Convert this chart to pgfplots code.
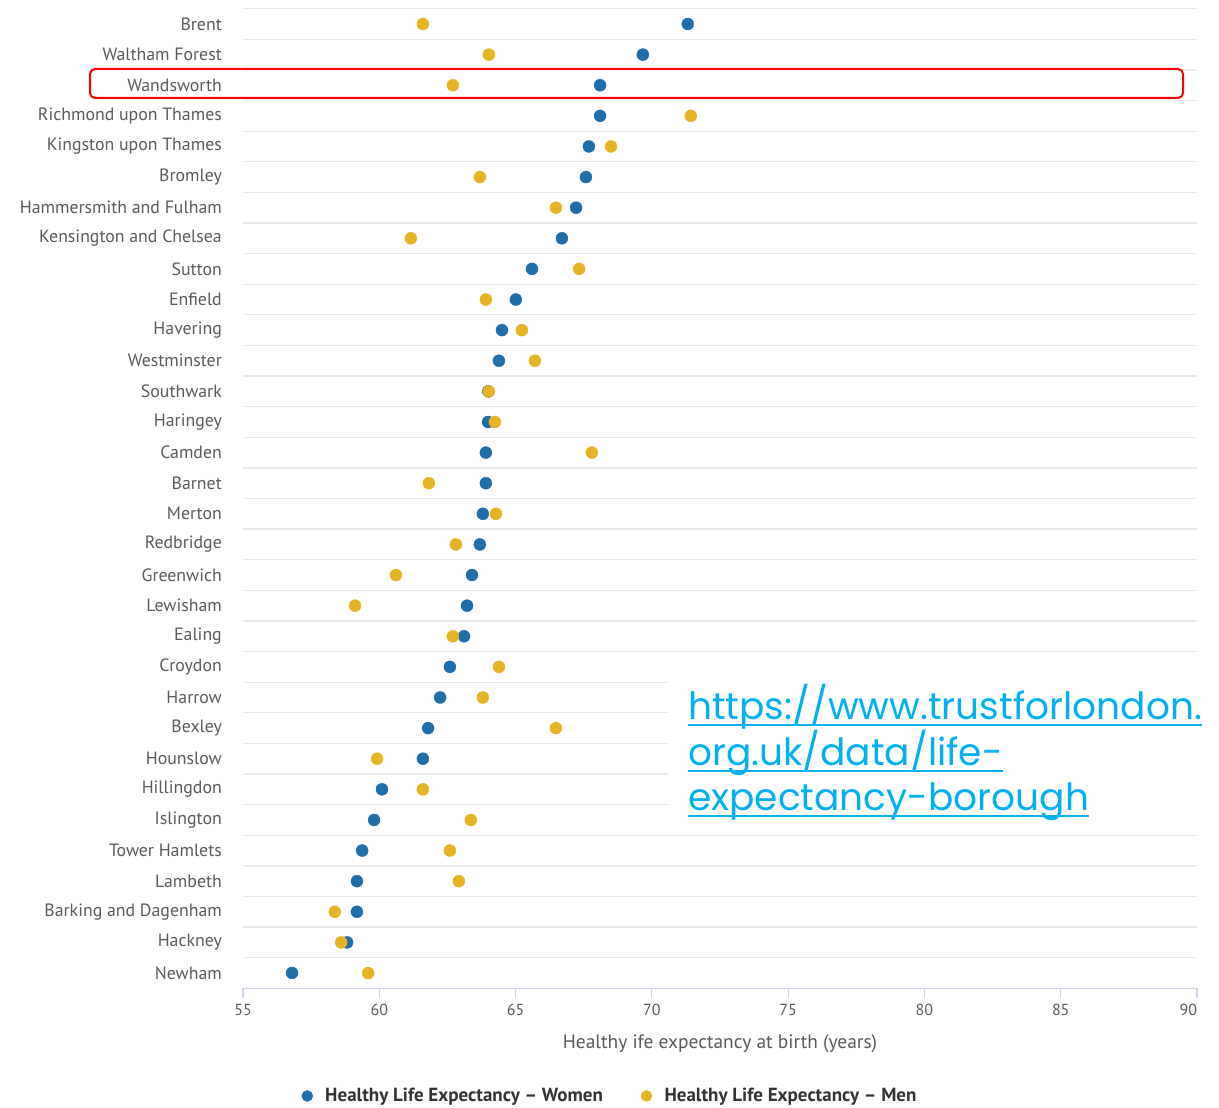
\documentclass[border=0pt]{standalone}
\usepackage{pgfplots}
\pgfplotsset{compat=1.18}
\usepackage{pgfplotstable}
\usepackage{fontspec}
\setmainfont{PT Sans}
\newfontfamily\urlfont{Poppins}
\definecolor{women}{HTML}{1F6EAB}
\definecolor{men}{HTML}{E6B325}
\definecolor{labc}{HTML}{5A5A5A}
\definecolor{gridc}{HTML}{E8E8E8}
\definecolor{axisc}{HTML}{CCD6EB}
\definecolor{urlc}{HTML}{00B0F0}
\definecolor{legc}{HTML}{333333}

\pgfplotstableread{
idx women men
0 71.32 61.60
1 69.67 64.02
2 68.10 62.70
3 68.10 71.43
4 67.69 68.50
5 67.58 63.69
6 67.22 66.48
7 66.70 61.16
8 65.60 67.33
9 65.01 63.91
10 64.50 65.23
11 64.39 65.71
12 64.00 64.02
13 63.99 64.24
14 63.91 67.80
15 63.91 61.82
16 63.80 64.28
17 63.69 62.81
18 63.40 60.61
19 63.22 59.11
20 63.11 62.70
21 62.59 64.39
22 62.23 63.80
23 61.79 66.48
24 61.60 59.92
25 60.10 61.60
26 59.81 63.36
27 59.37 62.59
28 59.18 62.92
29 59.18 58.37
30 58.82 58.60
31 56.80 59.59
}\data

\newcommand\ulx[1]{\setbox0\hbox{#1}\rlap{\rule[-6bp]{\wd0}{1.6bp}}\box0}

\begin{document}
\begin{tikzpicture}
\begin{axis}[
  at={(243bp,119.7bp)}, anchor=south west,
  scale only axis, width=954bp, height=979.6bp,
  xmin=55, xmax=90, ymin=-0.5, ymax=31.5, y dir=reverse,
  axis line style={draw=none},
  major tick length=0pt, minor tick length=0pt,
  xtick={55,60,...,90},
  xticklabels={55,60,65,70,75,80,85,\makebox[0pt][r]{90}},
  xticklabel style={font=\fontsize{16bp}{19bp}\selectfont, text=labc, yshift=-12bp},
  ytick={0,...,31},
  yticklabels={Brent,Waltham Forest,Wandsworth,Richmond upon Thames,Kingston upon Thames,Bromley,Hammersmith and Fulham,Kensington and Chelsea,Sutton,Enfield,Havering,Westminster,Southwark,Haringey,Camden,Barnet,Merton,Redbridge,Greenwich,Lewisham,Ealing,Croydon,Harrow,Bexley,Hounslow,Hillingdon,Islington,Tower Hamlets,Lambeth,Barking and Dagenham,Hackney,Newham},
  yticklabel style={font=\fontsize{17.8bp}{20bp}\selectfont, text=labc, anchor=east, inner sep=0pt, xshift=-21bp},
  minor ytick={-0.5,0.5,...,31.5},
  yminorgrids=true,
  minor grid style={draw=gridc, line width=1.3bp},
  xlabel={Healthy ife expectancy at birth (years)},
  xlabel style={at={(axis description cs:0.5,0)}, anchor=center, yshift=-55bp, font=\fontsize{19.4bp}{22bp}\selectfont, text=labc},
  legend columns=2,
  legend cell align=left,
  legend image code/.code={\fill[#1] (0bp,0bp) circle (5.5bp); \path[draw=none, fill=none] (-5.5bp,-0.1bp) rectangle (16bp,0.1bp);},
  legend style={at={(axis description cs:0.3847,-0.1099)}, anchor=center, draw=none, fill=none,
    font=\bfseries\fontsize{19bp}{22bp}\selectfont, text=legc,
    /tikz/every even column/.append style={column sep=36bp}},
  clip=false,
]
\addplot[only marks, mark=*, mark size=6bp, color=women, mark options={draw=none, fill=women}] table[x=women, y=idx] {\data};
\addlegendentry{Healthy Life Expectancy – Women}
\addplot[only marks, mark=*, mark size=6bp, color=men, mark options={draw=none, fill=men}] table[x=men, y=idx] {\data};
\addlegendentry{Healthy Life Expectancy – Men}
\draw[axisc, line width=1.2bp] (axis cs:55,31.5) -- (axis cs:90,31.5);
\pgfplotsinvokeforeach{55,60,65,70,75,80,85,90}{
  \draw[axisc, line width=1.2bp] (axis cs:#1,31.5) -- ([yshift=-10bp]axis cs:#1,31.5);
}
\end{axis}
% white box behind the URL
\fill[white] (668bp,283bp) rectangle (1219bp,436bp);
\node[anchor=base west, inner sep=0pt, align=left, text=urlc,
      font=\urlfont\fontsize{37.5bp}{45bp}\selectfont] at (688bp,297bp)
  {\ulx{https://www.trustforlondon.}\\\ulx{org.uk/data/life-}\\\ulx{expectancy-borough}};
% red highlight box
\draw[red, line width=2bp, rounded corners=5bp] (90bp,1010bp) rectangle (1183bp,1039bp);
\pgfresetboundingbox
\path[use as bounding box] (0,0) rectangle (1219bp,1108bp);
\end{tikzpicture}
\end{document}
